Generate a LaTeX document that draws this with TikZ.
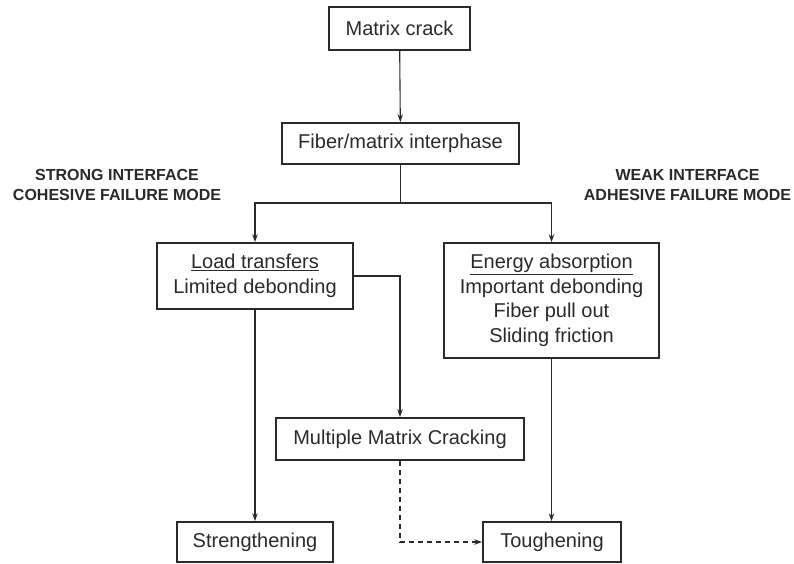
\documentclass[tikz,border=0pt]{standalone}
\usepackage{fontspec}
\setmainfont{Liberation Sans}
\usetikzlibrary{arrows.meta}
\definecolor{ink}{HTML}{2A2A2A}
\begin{document}
\begin{tikzpicture}[x=1pt,y=-1pt,
  box/.style={draw=ink, line width=1.7pt, rectangle, inner sep=0pt, align=center,
    font=\fontsize{20}{24.5}\selectfont, text=ink},
  lbl/.style={align=center, font=\fontsize{16}{20}\selectfont\bfseries, text=ink},
  conn/.style={draw=ink, line width=1.1pt},
  arr/.style={conn, -{Stealth[length=8pt,width=5.5pt]}}]
\useasboundingbox (0,0) rectangle (794,563);
\fill[white] (0,0) rectangle (794,563);
\node[box, minimum width=141pt, minimum height=43pt] (mc) at (399.5,28.5) {Matrix crack};
\node[box, minimum width=237pt, minimum height=41pt] (fi) at (400.5,143.5) {Fiber/matrix interphase};
\node[box, minimum width=196pt, minimum height=66pt] (ld) at (255,276) {\underline{Load transfers}\\Limited debonding};
\node[box, minimum width=215pt, minimum height=115pt] (en) at (551.5,300.5) {\underline{Energy absorption}\\Important debonding\\Fiber pull out\\Sliding friction};
\node[box, minimum width=248pt, minimum height=42pt] (mm) at (400,439) {Multiple Matrix Cracking};
\node[box, minimum width=156pt, minimum height=40pt] (st) at (255,542) {Strengthening};
\node[box, minimum width=138pt, minimum height=40pt] (to) at (552,542) {Toughening};
\node[lbl] (strong) at (117,185) {STRONG INTERFACE\\COHESIVE FAILURE MODE};
\node[lbl] (weak) at (687.5,185) {WEAK INTERFACE\\ADHESIVE FAILURE MODE};
\coordinate (split) at (400.5,203);
\draw[arr] (mc) -- (fi);
\draw[conn] (fi.south) -- (split);
\draw[arr] (split) -| (ld.north);
\draw[arr] (split) -| (en.north);
\draw[arr] (ld.east) -| (mm.north);
\draw[arr] (ld.south) -- (st.north);
\draw[arr] (en.south) -- (en.south |- to.north);
\draw[arr, dashed, dash pattern=on 5pt off 4pt] (mm.south) |- (to.west);
\end{tikzpicture}
\end{document}
